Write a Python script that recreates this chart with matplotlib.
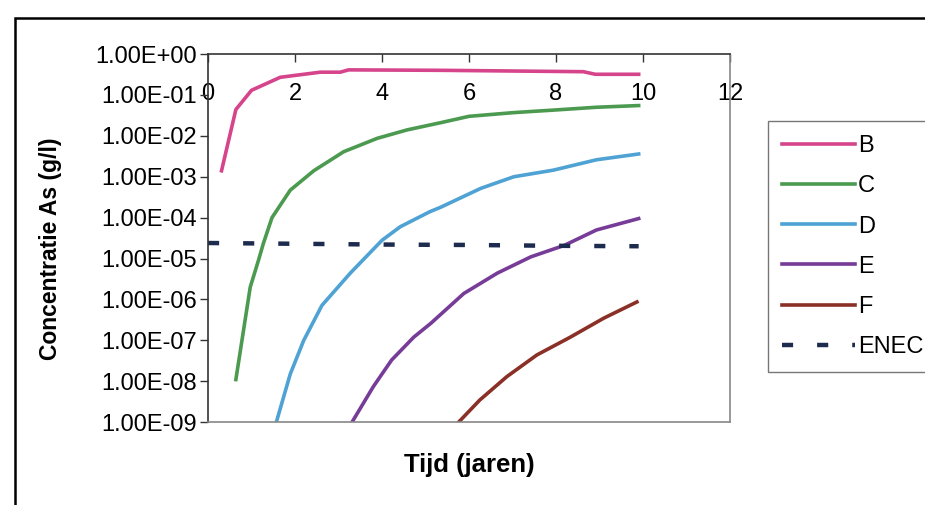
import matplotlib.pyplot as plt
from matplotlib.ticker import FixedLocator, FuncFormatter
from matplotlib.patches import Rectangle

plt.rcParams['font.family'] = ['Liberation Sans', 'DejaVu Sans']

# series (Tijd in jaren, concentratie in g/l)
b_x = [0.31, 0.64, 1.0, 1.66, 2.58, 3.04, 3.23, 5.33, 8.63, 8.9, 9.9]
b_y = [1.4e-3, 4.4e-2, 0.13, 0.27, 0.36, 0.36, 0.41, 0.40, 0.37, 0.32, 0.32]

c_x = [0.64, 0.97, 1.16, 1.27, 1.47, 1.89, 2.43, 3.12, 3.89, 4.58, 5.35, 6.0, 7.03, 8.0, 8.93, 9.9]
c_y = [1.1e-8, 2.0e-6, 9.1e-6, 2.3e-5, 1.0e-4, 4.7e-4, 1.4e-3, 4.1e-3, 8.7e-3, 1.4e-2,
       2.1e-2, 3.0e-2, 3.7e-2, 4.3e-2, 5.0e-2, 5.5e-2]

d_x = [1.57, 1.89, 2.2, 2.62, 3.27, 4.0, 4.42, 5.1, 5.35, 6.27, 7.03, 7.94, 8.93, 9.9]
d_y = [1e-9, 1.5e-8, 1.0e-7, 7.2e-7, 4.4e-6, 2.8e-5, 6.0e-5, 1.4e-4, 1.8e-4, 5.2e-4,
       1.0e-3, 1.45e-3, 2.6e-3, 3.6e-3]

e_x = [3.31, 3.8, 4.22, 4.73, 5.12, 5.88, 6.65, 7.42, 8.19, 8.93, 9.9]
e_y = [1e-9, 7.4e-9, 3.3e-8, 1.2e-7, 2.6e-7, 1.4e-6, 4.4e-6, 1.1e-5, 2.1e-5, 5.0e-5, 9.5e-5]

f_x = [5.76, 6.25, 6.87, 7.56, 8.33, 9.1, 9.86]
f_y = [1e-9, 3.5e-9, 1.3e-8, 4.4e-8, 1.2e-7, 3.5e-7, 8.7e-7]

enec_x = [0.0, 2.0, 4.0, 6.0, 8.0, 9.9]
enec_y = [2.4e-5, 2.3e-5, 2.2e-5, 2.15e-5, 2.05e-5, 2.0e-5]

y_ticks = [1e0, 1e-1, 1e-2, 1e-3, 1e-4, 1e-5, 1e-6, 1e-7, 1e-8, 1e-9]
x_ticks = [0, 2, 4, 6, 8, 10, 12]

fig = plt.figure(figsize=(9.25, 5.05), dpi=100)
ax = fig.add_axes([0.2249, 0.164, 0.5643, 0.729])

ax.plot(b_x, b_y, color='#d6458b', lw=2.6, label='B')
ax.plot(c_x, c_y, color='#4b9a50', lw=2.6, label='C')
ax.plot(d_x, d_y, color='#4fa2d4', lw=2.6, label='D')
ax.plot(e_x, e_y, color='#773c98', lw=2.6, label='E')
ax.plot(f_x, f_y, color='#8a3026', lw=2.6, label='F')
ax.plot(enec_x, enec_y, color='#1d2c4e', lw=3.2, linestyle=(0, (2.5, 5.4)),
        label='ENEC')

ax.set_yscale('log')
ax.set_ylim(1e-9, 1e0)
ax.set_xlim(0, 12)
ax.yaxis.set_major_locator(FixedLocator(y_ticks))
ax.yaxis.set_minor_locator(FixedLocator([]))
ax.yaxis.set_major_formatter(FuncFormatter(lambda v, p: f'{v:.2E}'))
ax.set_xticks(x_ticks)

ax.tick_params(axis='y', direction='out', length=6, width=1, colors='#333333',
               labelsize=17, labelcolor='black', pad=2)
ax.tick_params(axis='x', bottom=False, labelbottom=False, top=True, labeltop=True,
               direction='in', length=6, width=1, colors='#333333',
               labelsize=17, labelcolor='black', pad=-37)

for s in ['top', 'left']:
    ax.spines[s].set_color('#333333')
for s in ['bottom', 'right']:
    ax.spines[s].set_color('#888888')
for s in ax.spines.values():
    s.set_linewidth(1.2)

ax.set_ylabel('Concentratie As (g/l)', fontsize=16.5, fontweight='bold')
ax.yaxis.set_label_coords(-0.28, 0.47)
ax.set_xlabel('Tijd (jaren)', fontsize=18.5, fontweight='bold', labelpad=22)

leg = ax.legend(loc='upper left', bbox_to_anchor=(768 / 925, 1 - 121 / 505),
                bbox_transform=fig.transFigure, fontsize=17, frameon=True,
                fancybox=False, edgecolor='#555555', handlelength=3.1,
                handletextpad=0.1, labelspacing=0.77, borderpad=0.6,
                borderaxespad=0)
leg.get_frame().set_linewidth(1.0)

# outer chart frame
fig.patches.append(Rectangle((15 / 925, -0.1), 1.0, 1 - 18 / 505 + 0.1,
                             transform=fig.transFigure, fill=False,
                             edgecolor='black', lw=1.8))

fig.savefig('out.png', dpi=100)
